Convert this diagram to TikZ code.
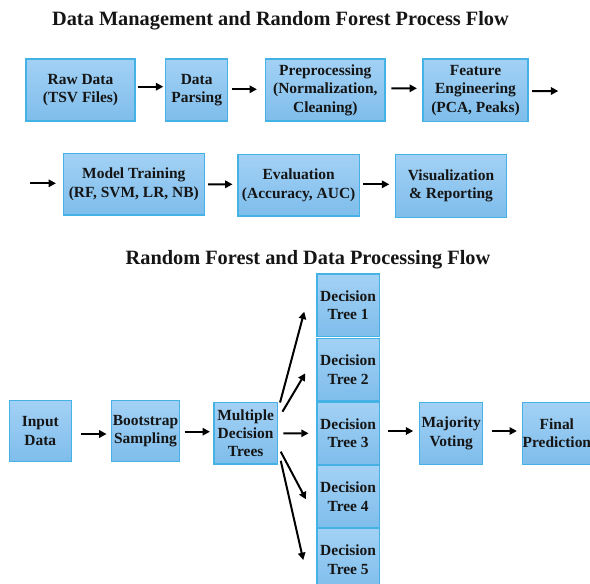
\documentclass[tikz,border=0pt]{standalone}
\usepackage{fontspec}
\setmainfont{Liberation Serif}[BoldFont={Liberation Serif Bold}]
\usetikzlibrary{calc,arrows.meta}
\definecolor{boxtop}{HTML}{A3D1F5}
\definecolor{boxbot}{HTML}{7EBDEB}
\definecolor{boxline}{HTML}{45B2E6}
\definecolor{ink}{HTML}{151515}
\tikzset{
  flowbox/.style={rectangle, draw=boxline, line width=1.1pt, top color=boxtop, bottom color=boxbot,
    inner sep=0pt, align=center, text=ink, font=\rmfamily\bfseries\fontsize{11.6}{13.8}\selectfont},
  flowarrow/.style={line width=1.5pt, -{Triangle[length=5.5pt,width=5.5pt]}},
  titletext/.style={anchor=base, text=ink, font=\rmfamily\bfseries\fontsize{15.25}{17}\selectfont, inner sep=0pt}
}
\begin{document}
\begin{tikzpicture}[x=0.75pt,y=-0.75pt]
\useasboundingbox (0,0) rectangle (590,583);
\fill[white] (0,0) rectangle (590,583);
% titles
\node[titletext] (t1) at (280.5,25) {Data Management and Random Forest Process Flow};
\node[titletext] (t2) at (308,264) {Random Forest and Data Processing Flow};
% row 1
\node[flowbox, minimum width=81.75pt, minimum height=46.5pt] (raw) at (80.5,90) {Raw Data\\(TSV Files)};
\node[flowbox, minimum width=46.5pt, minimum height=46.5pt] (parse) at (196.7,90) {Data\\Parsing};
\node[flowbox, minimum width=89.5pt, minimum height=46.5pt] (prep) at (325.35,90) {Preprocessing\\(Normalization,\\Cleaning)};
\node[flowbox, minimum width=78.75pt, minimum height=47pt] (feat) at (475.5,90.3) {Feature\\Engineering\\(PCA, Peaks)};
\coordinate (row1end) at (558.3,91);
% row 2
\coordinate (row2start) at (30,183.3);
\node[flowbox, minimum width=105.75pt, minimum height=46.3pt] (train) at (133.8,184.15) {Model Training\\(RF, SVM, LR, NB)};
\node[flowbox, minimum width=91pt, minimum height=46.3pt] (eval) at (298.65,185.15) {Evaluation\\(Accuracy, AUC)};
\node[flowbox, minimum width=83.5pt, minimum height=47.25pt] (vis) at (451,185.8) {Visualization\\\&~Reporting};
% row 3
\node[flowbox, minimum width=46.5pt, minimum height=45.75pt] (input) at (40.3,431.2) {Input\\Data};
\node[flowbox, minimum width=50.7pt, minimum height=45.75pt] (boot) at (145.5,431.2) {Bootstrap\\Sampling};
\node[flowbox, minimum width=47.5pt, minimum height=46.3pt] (mdt) at (245.65,433.15) {Multiple\\Decision\\Trees};
\node[flowbox, minimum width=46.7pt, minimum height=46.9pt] (dt1) at (348.15,305.35) {Decision\\Tree 1};
\node[flowbox, minimum width=46.7pt, minimum height=46.9pt] (dt2) at (348.15,369.5) {Decision\\Tree 2};
\node[flowbox, minimum width=46.7pt, minimum height=46.9pt] (dt3) at (348.15,433.3) {Decision\\Tree 3};
\node[flowbox, minimum width=46.7pt, minimum height=46.9pt] (dt4) at (348.15,496.85) {Decision\\Tree 4};
\node[flowbox, minimum width=46.7pt, minimum height=46.9pt] (dt5) at (348.15,559.9) {Decision\\Tree 5};
\node[flowbox, minimum width=47.25pt, minimum height=46.5pt] (maj) at (451.2,433.3) {Majority\\Voting};
\node[flowbox, minimum width=51.2pt, minimum height=46.5pt] (fin) at (556.85,433.3) {Final\\Prediction};
% arrows row 1
\draw[flowarrow] ($(raw.east)+(2.7,-3.3)$) -- ($(parse.west)+(-1.7,-3.3)$);
\draw[flowarrow] ($(parse.east)+(3.3,-0.7)$) -- ($(prep.west)+(-8,-0.7)$);
\draw[flowarrow] ($(prep.east)+(5.7,-1.7)$) -- ($(feat.west)+(-5.3,-2)$);
\draw[flowarrow] ($(feat.east)+(3.3,0.7)$) -- (row1end);
% arrows row 2
\draw[flowarrow] (row2start) -- ($(train.west)+(-6.6,-0.85)$);
\draw[flowarrow] ($(train.east)+(3,0.15)$) -- ($(eval.west)+(-4.7,-0.85)$);
\draw[flowarrow] ($(eval.east)+(3.4,-0.85)$) -- ($(vis.west)+(-5.3,-1.5)$);
% arrows row 3
\draw[flowarrow] ($(input.east)+(9.4,2.8)$) -- ($(boot.west)+(-4.4,2.8)$);
\draw[flowarrow] ($(boot.east)+(4.7,0.5)$) -- ($(mdt.west)+(-3.3,-1.45)$);
\draw[flowarrow] ($(mdt.north east)+(2,1)$) -- ($(dt1.west)+(-12,6.35)$);
\draw[flowarrow] ($(mdt.east)+(4.4,-21.45)$) -- ($(dt2.west)+(-11,3.8)$);
\draw[flowarrow] ($(mdt.east)+(5.4,0.15)$) -- ($(dt3.west)+(-7.7,0)$);
\draw[flowarrow] ($(mdt.east)+(2.7,18.55)$) -- ($(dt4.west)+(-10.3,2.45)$);
\draw[flowarrow] ($(mdt.south east)+(2.7,-4)$) -- ($(dt5.west)+(-13,0.1)$);
\draw[flowarrow] ($(dt3.east)+(8.4,-2.3)$) -- ($(maj.west)+(-5.7,-2.3)$);
\draw[flowarrow] ($(maj.east)+(8.3,-2.3)$) -- ($(fin.west)+(-5,-2.3)$);
\end{tikzpicture}
\end{document}
